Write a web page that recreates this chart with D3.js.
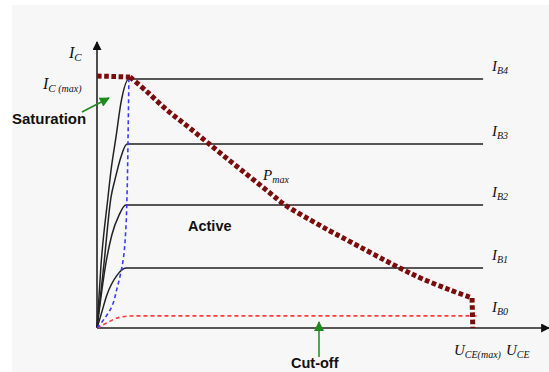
<!DOCTYPE html>
<html><head><meta charset="utf-8">
<script src="https://cdn.jsdelivr.net/npm/d3@7"></script>
<style>html,body{margin:0;padding:0;background:#fff;}svg{display:block;}</style>
</head><body>
<svg id="c" width="549" height="372"></svg>
<script>
// Output characteristic curves (U_CE in % of U_CE(max), I_C in % of I_C(max))
const ib4 = [[0,0],[1.05,25],[2.9,52],[3.7,62.7],[5.0,75.8],[6.3,89.3],[8.4,98.8],[101.6,98.8]];
const ib3 = [[0,0],[1.8,25],[3.7,52],[4.7,58.7],[6.3,67.9],[7.9,73.0],[101.6,73.0]];
const ib2 = [[0,0],[2.4,26.2],[3.9,36.9],[5.8,44.8],[7.6,48.8],[101.6,48.8]];
const ib1 = [[0,0],[1.05,5.2],[2.6,13.1],[5.3,21.0],[7.6,23.8],[101.6,23.8]];
const ib0 = [[0,0],[2.6,2.0],[5.3,4.0],[9.5,4.8],[100,4.8]];
const saturationBoundary = [[0,0],[1.3,2.4],[3.7,7.9],[5.3,15.9],[6.8,26.2],[7.6,39.7],[7.9,52.8],[8.2,78.6],[8.4,100]];
const pmaxFlat = [[0,100],[8.7,99.6]];
const pmaxCurve = [[8.7,99.6],[13.2,93.7],[18.4,86.5],[23.7,80.2],[28.9,73.8],[35.0,66.3],[40.3,59.9],[45.5,53.6],[49.5,48.8],[56.1,42.9],[61.3,38.5],[65.8,34.9],[79.7,23.8],[85.8,19.4],[92.9,15.1],[98.7,11.9]];
const pmaxDrop = [[98.7,11.9],[98.9,0]];
const curveLabels = [["I","B4"],["I","B3"],["I","B2"],["I","B1"],["I","B0"]];
const axisLabels = {y:["I","C"], ymax:["I","C"," (max)"], x:["U","CE"], xmax:["U","CE(max)"], p:["P","max"]};
const regionLabels = ["Saturation","Active","Cut-off"];

const svg = d3.select("#c");
svg.append("rect").attr("x",12).attr("y",5).attr("width",537).attr("height",367).attr("fill","#f7f7f7");

const x = d3.scaleLinear().domain([0,100]).range([97,477]);
const y = d3.scaleLinear().domain([0,100]).range([328,76]);

const defs = svg.append("defs");
function marker(id,color,w,h){
  defs.append("marker").attr("id",id).attr("viewBox","0 0 10 10").attr("refX",9).attr("refY",5)
    .attr("markerWidth",w).attr("markerHeight",h).attr("markerUnits","userSpaceOnUse").attr("orient","auto")
    .append("path").attr("d","M0,0L10,5L0,10Z").attr("fill",color);
}
marker("ax","#111",10,9);
marker("gr","#1f8a1f",11,10);

// axes
svg.append("line").attr("x1",x(0)).attr("y1",y(0)).attr("x2",x(119)).attr("y2",y(0))
  .attr("stroke","#222").attr("stroke-width",1.6).attr("marker-end","url(#ax)");
svg.append("line").attr("x1",x(0)).attr("y1",y(0)).attr("x2",x(0)).attr("y2",y(113.5))
  .attr("stroke","#222").attr("stroke-width",1.6).attr("marker-end","url(#ax)");

const line = d3.line().x(d=>x(d[0])).y(d=>y(d[1])).curve(d3.curveMonotoneX);
const lineLin = d3.line().x(d=>x(d[0])).y(d=>y(d[1]));
const lineSmooth = d3.line().x(d=>x(d[0])).y(d=>y(d[1])).curve(d3.curveCatmullRom.alpha(0.5));

[ib4,ib3,ib2,ib1].forEach(s=>{
  svg.append("path").attr("d",line(s)).attr("fill","none").attr("stroke","#222").attr("stroke-width",1.5);
});
svg.append("path").attr("d",line(ib0)).attr("fill","none").attr("stroke","#ff3b3b").attr("stroke-width",1.6).attr("stroke-dasharray","4,3");
svg.append("path").attr("d",d3.line().x(d=>x(d[0])).y(d=>y(d[1])).curve(d3.curveMonotoneY)(saturationBoundary))
  .attr("fill","none").attr("stroke","#3b3bff").attr("stroke-width",1.6).attr("stroke-dasharray","4,3");
const pStyle = p => p.attr("fill","none").attr("stroke","#7b0c0c").attr("stroke-width",5).attr("stroke-dasharray","4.6,2.6");
pStyle(svg.append("path").attr("d",lineLin(pmaxFlat)));
pStyle(svg.append("path").attr("d",lineSmooth(pmaxCurve)));
pStyle(svg.append("path").attr("d",lineLin(pmaxDrop)));

// serif italic labels with subscripts
function subText(px,py,parts,size,subSize){
  const t = svg.append("text").attr("x",px).attr("y",py).attr("font-family","Liberation Serif, serif")
    .attr("font-style","italic").attr("font-size",size).attr("fill","#111");
  t.append("tspan").text(parts[0]);
  t.append("tspan").attr("font-size",subSize).attr("dy",3).text(parts[1]);
  if(parts[2]) t.append("tspan").attr("font-size",subSize-1).text(parts[2]);
  return t;
}
const levels = [ib4,ib3,ib2,ib1,ib0].map(s=>s[s.length-1][1]);
curveLabels.forEach((l,i)=>{
  subText(492, y(levels[i]) - (i===4?4:8), l, 15, 10);
});
subText(69,58,axisLabels.y,16,11);
subText(43,89,axisLabels.ymax,16,11);
subText(263,180,axisLabels.p,15,10);
subText(454,355,axisLabels.xmax,15,10);
subText(506,355,axisLabels.x,15,10);

// bold region labels
function bold(px,py,txt,size){
  svg.append("text").attr("x",px).attr("y",py).attr("font-family","Liberation Sans, Arial, sans-serif")
    .attr("font-weight","bold").attr("font-size",size).attr("fill","#111").text(txt);
}
bold(12,124,regionLabels[0],15);
bold(188,231,regionLabels[1],14.5);
bold(291,368,regionLabels[2],14.5);

// green arrows
svg.append("line").attr("x1",82).attr("y1",112).attr("x2",109).attr("y2",98)
  .attr("stroke","#1f8a1f").attr("stroke-width",1.5).attr("marker-end","url(#gr)");
svg.append("line").attr("x1",319).attr("y1",357).attr("x2",319).attr("y2",322)
  .attr("stroke","#1f8a1f").attr("stroke-width",1.5).attr("marker-end","url(#gr)");
</script>
</body></html>
